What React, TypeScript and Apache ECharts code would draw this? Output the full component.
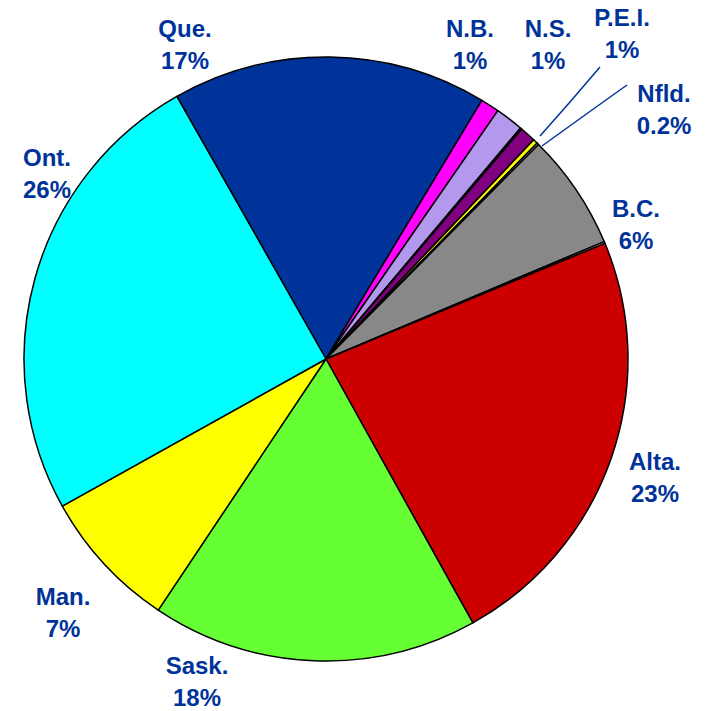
import React, { useEffect, useRef } from "react";
import * as echarts from "echarts";

const provinces = ["Que.", "N.B.", "N.S.", "Y.T.", "P.E.I.", "Nfld.", "N.W.T.", "B.C.", "Nvt.", "Alta.", "Sask.", "Man.", "Ont."];
const shares = [16.8, 1.0, 1.5, 0.08, 0.85, 0.25, 0.1, 6.2, 0.1, 23.1, 17.4, 7.5, 24.8];
const shareLabels = ["17%", "1%", "1%", "", "1%", "0.2%", "", "6%", "", "23%", "18%", "7%", "26%"];
const sliceColors = ["#003399", "#FF00FF", "#B399EE", "#A0A0A0", "#800080", "#FFFF00", "#E0E0E0", "#888888", "#D0D0D0", "#CC0000", "#66FF33", "#FFFF00", "#00FFFF"];

// label block centres (layout, not data)
const labelPos: Record<string, [number, number]> = {
  "Que.": [185, 44],
  "N.B.": [470, 44],
  "N.S.": [548, 44],
  "P.E.I.": [622, 33],
  "Nfld.": [664, 109],
  "B.C.": [636, 224],
  "Alta.": [655, 477],
  "Sask.": [197, 681],
  "Man.": [63, 612],
  "Ont.": [47, 173],
};
const leaderLines: Record<string, number[][]> = {
  "P.E.I.": [[600, 67], [570, 102], [540, 136]],
  "Nfld.": [[627, 85], [585, 115], [542, 146]],
};

export default function App() {
  const ref = useRef<HTMLDivElement>(null);
  useEffect(() => {
    if (!ref.current) return;
    const chart = echarts.init(ref.current, undefined, { renderer: "svg" });
    chart.setOption({
      animation: false,
      backgroundColor: "#ffffff",
      series: [
        {
          type: "pie",
          center: [326, 359],
          radius: 302,
          startAngle: 119.6,
          clockwise: true,
          avoidLabelOverlap: false,
          itemStyle: { borderColor: "#000000", borderWidth: 1.5 },
          label: {
            show: true,
            position: "outside",
            color: "#003399",
            fontFamily: "Liberation Sans, Arial, sans-serif",
            fontWeight: "bold",
            fontSize: 24,
            lineHeight: 32,
            align: "center",
            formatter: (p: any) => `${p.name}\n${shareLabels[p.dataIndex]}`,
          },
          labelLine: { show: false, lineStyle: { color: "#003399", width: 1.5 } },
          labelLayout: (p: any) => {
            const name = provinces[p.dataIndex];
            const pos = labelPos[name];
            if (!pos) return {};
            const r: any = { x: pos[0], y: pos[1], align: "center", verticalAlign: "middle" };
            if (leaderLines[name]) r.labelLinePoints = leaderLines[name];
            return r;
          },
          data: provinces.map((n, i) => ({
            name: n,
            value: shares[i],
            itemStyle: { color: sliceColors[i] },
            label: { show: shareLabels[i] !== "" },
            labelLine: { show: !!leaderLines[n] },
          })),
        },
      ],
    });
    return () => chart.dispose();
  }, []);
  return <div ref={ref} style={{ position: "fixed", left: 0, top: 0, width: 709, height: 711 }} />;
}
